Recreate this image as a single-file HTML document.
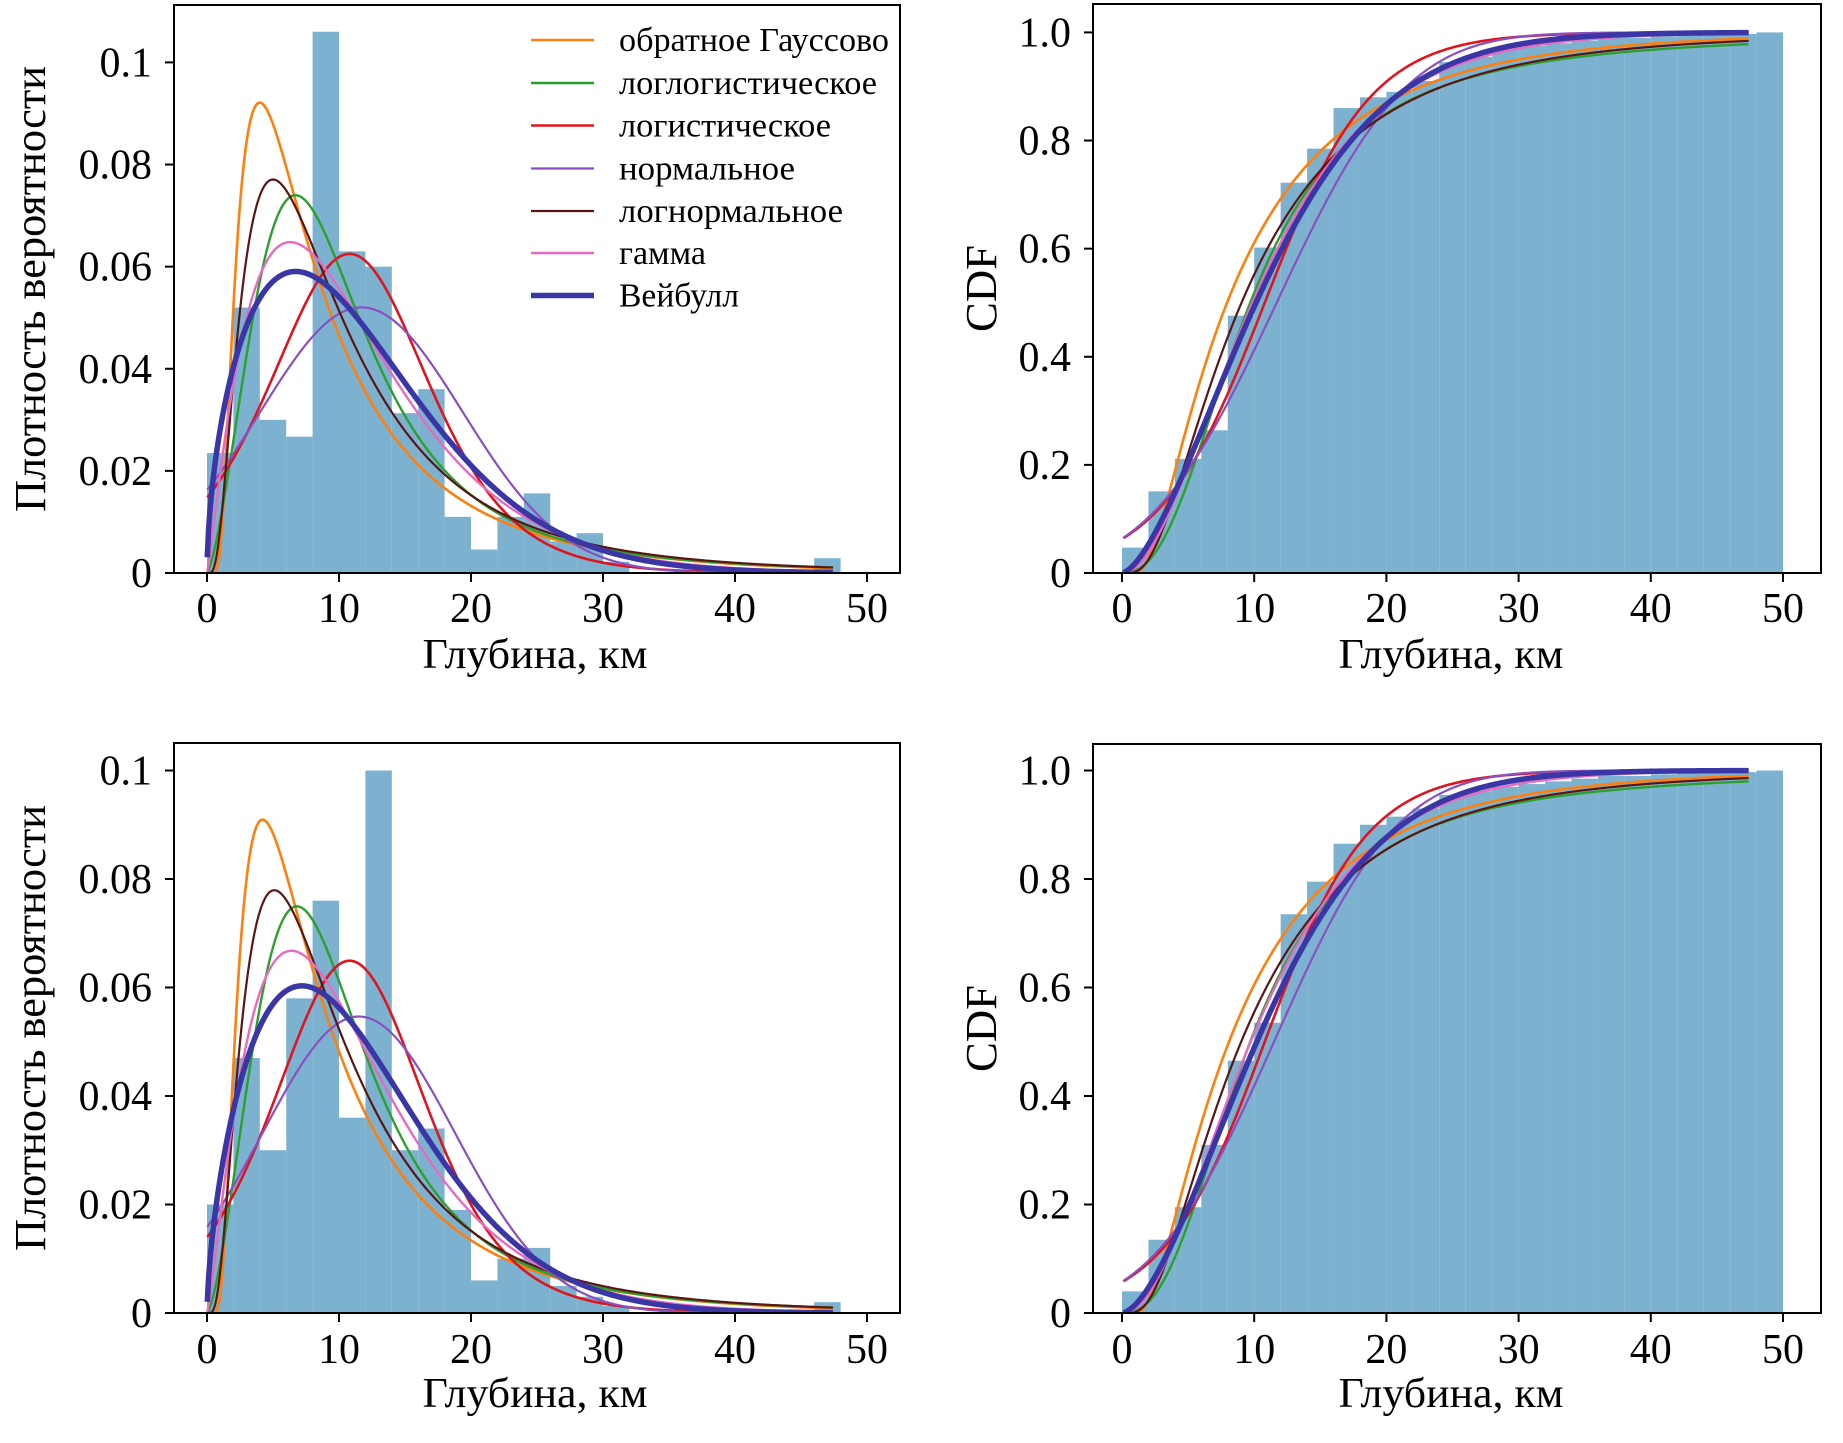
<!DOCTYPE html>
<html><head><meta charset="utf-8"><style>
html,body{margin:0;padding:0;background:#fff}
svg{display:block}
text{font-family:"Liberation Serif",serif;fill:#000}
</style></head><body>
<svg id="fig" width="1843" height="1443" viewBox="0 0 1843 1443" xmlns="http://www.w3.org/2000/svg">
<defs>
<clipPath id="c0"><rect x="174" y="5" width="726" height="568"/></clipPath>
<clipPath id="c1"><rect x="1093" y="4" width="728" height="569"/></clipPath>
<clipPath id="c2"><rect x="174" y="743" width="726" height="570"/></clipPath>
<clipPath id="c3"><rect x="1093" y="744" width="728" height="569"/></clipPath>
</defs>
</svg>
<script>
// ---- data ----
const binEdgesStart = [0,2,4,6,8,10,12,14,16,18,20,22,24,26,28,30,32,34,36,38,40,42,44,46,48];
const pdfTopValues = [0.0235,0.052,0.030,0.0267,0.106,0.063,0.060,0.0313,0.036,0.011,0.0046,0.011,0.0156,0.0062,0.0078,0.0022,0,0,0,0,0,0,0,0.0029,0];
const pdfBottomValues = [0.020,0.047,0.030,0.058,0.076,0.036,0.100,0.030,0.034,0.019,0.006,0.010,0.012,0.005,0.003,0.0013,0,0,0,0,0,0,0,0.002,0];
const cdfTopValues = [0.047,0.151,0.211,0.264,0.476,0.602,0.722,0.785,0.860,0.880,0.890,0.910,0.945,0.955,0.970,0.975,0.980,0.985,0.990,0.990,0.993,0.995,0.995,0.997,1.0];
const cdfBottomValues = [0.040,0.135,0.195,0.310,0.465,0.535,0.735,0.795,0.865,0.900,0.915,0.930,0.955,0.962,0.970,0.975,0.980,0.985,0.990,0.990,0.993,0.995,0.995,0.997,1.0];
const xTickLabels = ["0","10","20","30","40","50"];
const pdfTickLabels = ["0","0.02","0.04","0.06","0.08","0.1"];
const cdfTickLabels = ["0","0.2","0.4","0.6","0.8","1.0"];
const legendLabels = ["обратное Гауссово","логлогистическое","логистическое","нормальное","логнормальное","гамма","Вейбулл"];
// fitted distribution parameters [top, bottom]
const invGaussParams = [[11,13.8],[11,14.8]];     // mu, lambda
const logLogisticParams = [[2.4,9.7],[2.45,9.7]]; // c, scale
const logisticParams = [[10.8,4.0],[10.8,3.85]];  // loc, scale
const normalParams = [[11.7,7.67],[11.5,7.3]];    // mean, sd
const logNormalParams = [[2.202,0.77],[2.199,0.755]]; // mu, sigma
const gammaParams = [[2.2,5.25],[2.3,4.92]];     // shape, scale
const weibullParams = [[1.57,12.8],[1.64,12.75]]; // shape, scale

const NS="http://www.w3.org/2000/svg";
const svg=document.getElementById('fig');
function mk(tag,attrs,parent){const e=document.createElementNS(NS,tag);for(const k in attrs)e.setAttribute(k,attrs[k]);(parent||svg).appendChild(e);return e;}

function lgamma(z){const g=7,c=[0.99999999999980993,676.5203681218851,-1259.1392167224028,771.32342877765313,-176.61503916999185,12.507343278686905,-0.13857109526572012,9.9843695780195716e-6,1.5056327351493116e-7];z-=1;let x=c[0];for(let i=1;i<g+2;i++)x+=c[i]/(z+i);const t=z+g+0.5;return 0.5*Math.log(2*Math.PI)+(z+0.5)*Math.log(t)-t+Math.log(x);}
const pdfs={
 invgauss:(x,p)=>x<=0?0:Math.sqrt(p[1]/(2*Math.PI*x*x*x))*Math.exp(-p[1]*(x-p[0])**2/(2*p[0]*p[0]*x)),
 fisk:(x,p)=>{if(x<=0)return 0;const u=x/p[1];return (p[0]/p[1])*Math.pow(u,p[0]-1)/Math.pow(1+Math.pow(u,p[0]),2);},
 logistic:(x,p)=>{const e=Math.exp(-(x-p[0])/p[1]);return e/(p[1]*(1+e)*(1+e));},
 normal:(x,p)=>Math.exp(-0.5*((x-p[0])/p[1])**2)/(p[1]*Math.sqrt(2*Math.PI)),
 lognorm:(x,p)=>x<=0?0:Math.exp(-((Math.log(x)-p[0])**2)/(2*p[1]*p[1]))/(x*p[1]*Math.sqrt(2*Math.PI)),
 gamma:(x,p)=>x<=0?0:Math.exp((p[0]-1)*Math.log(x)-x/p[1]-lgamma(p[0])-p[0]*Math.log(p[1])),
 weibull:(x,p)=>{if(x<=0)return 0;const u=x/p[1];return (p[0]/p[1])*Math.pow(u,p[0]-1)*Math.exp(-Math.pow(u,p[0]));}
};
const series=[
 {key:'invgauss',params:invGaussParams,color:'#ff7f0e',w:2.6,name:'inverse-gaussian'},
 {key:'fisk',params:logLogisticParams,color:'#2ca02c',w:2.4,name:'loglogistic'},
 {key:'logistic',params:logisticParams,color:'#e0141e',w:2.6,name:'logistic'},
 {key:'normal',params:normalParams,color:'#8a4fc0',w:2.2,name:'normal'},
 {key:'lognorm',params:logNormalParams,color:'#5a1616',w:2.2,name:'lognormal'},
 {key:'gamma',params:gammaParams,color:'#e869c0',w:2.4,name:'gamma'},
 {key:'weibull',params:weibullParams,color:'#3a36a6',w:5.5,name:'weibull'}
];

const panels=[
 {x0:174,x1:900,top:5,bottom:573,xz:207,x50:867,y0:573,yTop:62.4,yTopVal:0.1,ticks:pdfTickLabels,tickVals:[0,0.02,0.04,0.06,0.08,0.1],hist:pdfTopValues,cdf:false,row:0,clip:'c0',xlabY:668,xlabC:535,tickY:622,ylab:'Плотность вероятности',ylabX:45,ylabLen:446,legend:true,name:'top-left-pdf'},
 {x0:1093,x1:1821,top:4,bottom:573,xz:1122,x50:1783,y0:573,yTop:32.4,yTopVal:1.0,ticks:cdfTickLabels,tickVals:[0,0.2,0.4,0.6,0.8,1.0],hist:cdfTopValues,cdf:true,row:0,clip:'c1',xlabY:668,xlabC:1451,tickY:622,ylab:'CDF',ylabX:996,ylabLen:87,name:'top-right-cdf'},
 {x0:174,x1:900,top:743,bottom:1313,xz:207,x50:867,y0:1313,yTop:770.5,yTopVal:0.1,ticks:pdfTickLabels,tickVals:[0,0.02,0.04,0.06,0.08,0.1],hist:pdfBottomValues,cdf:false,row:1,clip:'c2',xlabY:1407,xlabC:535,tickY:1363,ylab:'Плотность вероятности',ylabX:45,ylabLen:446,name:'bottom-left-pdf'},
 {x0:1093,x1:1821,top:744,bottom:1313,xz:1122,x50:1783,y0:1313,yTop:770.5,yTopVal:1.0,ticks:cdfTickLabels,tickVals:[0,0.2,0.4,0.6,0.8,1.0],hist:cdfBottomValues,cdf:true,row:1,clip:'c3',xlabY:1407,xlabC:1451,tickY:1363,ylab:'CDF',ylabX:996,ylabLen:87,name:'bottom-right-cdf'}
];

panels.forEach(P=>{
 const g=mk('g',{});
 
 
 const sx=v=>P.xz+(P.x50-P.xz)*v/50;
 const sy=v=>P.y0-(P.y0-P.yTop)*v/P.yTopVal;
 const cg=mk('g',{'clip-path':'url(#'+P.clip+')'},g);
 binEdgesStart.forEach((b,i)=>{
  const v=P.hist[i]; if(!v) return;
  const r=mk('rect',{x:sx(b),y:sy(v),width:sx(b+2)-sx(b),height:sy(0)-sy(v),fill:'#7cb2d0'},cg);
  
  
 });
 series.forEach(s=>{
  const p=s.params[P.row];const f=pdfs[s.key];
  let d='';
  if(!P.cdf){
   for(let x=0.02;x<=47.5;x+=0.1){d+=(d?'L':'M')+sx(x).toFixed(2)+' '+sy(f(x,p)).toFixed(2);}
  } else {
   let acc=0,prev=f(-40,p);const h=0.02;
   for(let x=-40+h;x<=47.5;x+=h){const c=f(x,p);acc+=(c+prev)*h/2;prev=c;
    if(x>=0.02 && Math.round(x/h)%5===0){d+=(d?'L':'M')+sx(x).toFixed(2)+' '+sy(acc).toFixed(2);}}
  }
  const pa=mk('path',{d:d,fill:'none',stroke:s.color,'stroke-width':s.w,'stroke-linejoin':'round'},cg);
  
  
 });
 const fr=mk('rect',{x:P.x0,y:P.top,width:P.x1-P.x0,height:P.bottom-P.top,fill:'none',stroke:'#000','stroke-width':2},g);
 
 
 xTickLabels.forEach((t,i)=>{
  const x=sx(i*10);
  mk('line',{x1:x,x2:x,y1:P.bottom,y2:P.bottom+9,stroke:'#000','stroke-width':2},g);
  const tx=mk('text',{x:x,y:P.tickY,'font-size':42,'text-anchor':'middle'},g);
  tx.textContent=t;
  
  
 });
 P.ticks.forEach((t,i)=>{
  const y=sy(P.tickVals[i]);
  mk('line',{x1:P.x0-9,x2:P.x0,y1:y,y2:y,stroke:'#000','stroke-width':2},g);
  const tx=mk('text',{x:P.x0-22,y:y+14,'font-size':42,'text-anchor':'end'},g);
  tx.textContent=t;
  
  
 });
 const xl=mk('text',{x:P.xlabC,y:P.xlabY,'font-size':42,'text-anchor':'middle',textLength:225,lengthAdjust:'spacingAndGlyphs'},g);
 xl.textContent='Глубина, км';
 
 
 const cy=(P.top+P.bottom)/2;
 const yl=mk('text',{x:0,y:0,'font-size':44,'text-anchor':'middle',textLength:P.ylabLen,lengthAdjust:'spacingAndGlyphs',transform:'translate('+P.ylabX+','+cy+') rotate(-90)'},g);
 yl.textContent=P.ylab;
 
 
 if(P.legend){
  const lg=mk('g',{},g);
  
  
  const rows=[40,83,125.5,168.5,211,253,295.5];
  const lens=[270,258,212,176,224,87,120];
  legendLabels.forEach((L,i)=>{
   const s=series[i];
   const e=mk('g',{},lg);
   
   
   mk('line',{x1:531,x2:594,y1:rows[i],y2:rows[i],stroke:s.color,'stroke-width':s.w},e);
   const t=mk('text',{x:619,y:rows[i]+11,'font-size':34,textLength:lens[i],lengthAdjust:'spacingAndGlyphs'},e);
   t.textContent=L;
  });
 }
});
</script>
</body></html>
